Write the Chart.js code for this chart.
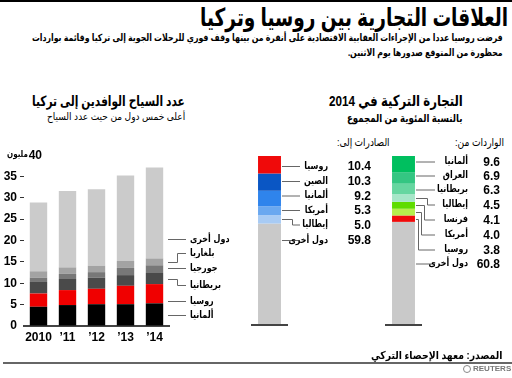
<!DOCTYPE html>
<html>
<head>
<meta charset="utf-8">
<script src="https://cdn.jsdelivr.net/npm/chart.js@4.4.1/dist/chart.umd.min.js"></script>
<style>
body { margin: 0; background: #fff; }
#wrap { position: relative; width: 512px; height: 378px; overflow: hidden; font-family: "Liberation Sans", "DejaVu Sans", sans-serif; color: #000; }
.t { position: absolute; white-space: nowrap; direction: rtl; text-align: right; width: max-content; transform-origin: right center; }
canvas { position: absolute; }
</style>
</head>
<body>
<div id="wrap">
  <div style="position:absolute;left:0;top:0;width:512px;height:2px;background:#000"></div>
  <div class="t" data-w="308" style="right:4px;top:2px;font-size:25px;line-height:30px;font-weight:bold">العلاقات التجارية بين روسيا وتركيا</div>
  <div class="t" data-w="471" style="right:9px;top:30px;font-size:10px;line-height:15px;font-weight:bold">فرضت روسيا عددا من الإجراءات العقابية الاقتصادية على أنقرة من بينها وقف فوري للرحلات الجوية إلى تركيا وقائمة بواردات<br>محظورة من المتوقع صدورها يوم الاثنين.</div>

  <div class="t" data-w="153" style="right:327px;top:92px;font-size:14px;line-height:18px;font-weight:bold">عدد السياح الوافدين إلى تركيا</div>
  <div class="t" data-w="138" style="right:327px;top:110px;font-size:10px;line-height:14px">أعلى خمس دول من حيث عدد السياح</div>

  <div class="t" data-w="134" style="right:49px;top:92px;font-size:15px;line-height:18px;font-weight:bold">التجارة التركية في 2014</div>
  <div class="t" data-w="116" style="right:49px;top:111px;font-size:11px;line-height:14px;font-weight:bold">بالنسبة المئوية من المجموع</div>
  <div class="t" data-w="49" style="right:8px;top:135px;font-size:11px;line-height:14px">الواردات من:</div>
  <div class="t" data-w="53" style="right:122px;top:135px;font-size:11px;line-height:14px">الصادرات إلى:</div>

  <canvas id="tourists" width="250" height="210" style="left:0;top:140px"></canvas>
  <canvas id="exports" width="135" height="200" style="left:245px;top:140px"></canvas>
  <canvas id="imports" width="132" height="200" style="left:380px;top:140px"></canvas>

  <div class="t" data-w="132" style="right:9px;top:348px;font-size:11px;line-height:14px;font-weight:bold">المصدر: معهد الإحصاء التركي</div>
  <div style="position:absolute;left:3px;top:362px;width:509px;height:2px;background:#666"></div>
  <div style="position:absolute;left:463px;top:365px;width:8px;height:8px;border:1.5px solid #888;border-radius:50%;box-sizing:border-box"></div>
  <div style="position:absolute;left:473px;top:364px;font-size:8px;line-height:10px;font-weight:bold;color:#777">REUTERS</div>
</div>

<script>
// السياح (مليون)
const years = ['2010', '\u201911', '\u201912', '\u201913', '\u201914'];
const germany = [4.5, 4.9, 5.1, 5.1, 5.3];
const russia = [3.1, 3.5, 3.6, 4.3, 4.5];
const britain = [2.7, 2.6, 2.6, 2.5, 2.6];
const georgia = [1.0, 1.2, 1.3, 1.7, 1.8];
const bulgaria = [1.5, 1.5, 1.5, 1.6, 1.6];
const others = [16.1, 17.9, 17.9, 20.0, 21.3];
const touristNames = ['ألمانيا', 'روسيا', 'بريطانيا', 'جورجيا', 'بلغاريا', 'دول أخرى'];
const yMax = 40;
const yStep = 5;
const yUnit = 'مليون';

// التجارة 2014 (%)
const exportNames = ['روسيا', 'الصين', 'ألمانيا', 'أمريكا', 'إيطاليا', 'دول أخرى'];
const exportShares = [10.4, 10.3, 9.2, 5.3, 5.0, 59.8];
const importNames = ['ألمانيا', 'العراق', 'بريطانيا', 'إيطاليا', 'فرنسا', 'أمريكا', 'روسيا', 'دول أخرى'];
const importShares = [9.6, 6.9, 6.3, 4.5, 4.1, 4.0, 3.8, 60.8];

// الخط العربي في DejaVu اعرض من الاصل، نضغطه افقيا
document.querySelectorAll('[data-w]').forEach(el => {
  el.style.transform = 'scaleX(' + (el.dataset.w / el.offsetWidth) + ')';
});

const arFont = 'bold 10px "DejaVu Sans", sans-serif';
const numFont = 'bold 12px "Liberation Sans", Arial, sans-serif';

function arText(ctx, text, x, y, align, font) {
  ctx.save();
  ctx.translate(x, y);
  ctx.scale(0.8, 1);
  ctx.font = font || arFont;
  ctx.textAlign = align;
  ctx.textBaseline = 'middle';
  ctx.fillText(text, 0, 0);
  ctx.restore();
}

// خطوط الربط بين الأجزاء والأسماء
const leaders = {
  id: 'leaders',
  afterDatasetsDraw(chart, args, o) {
    const ctx = chart.ctx;
    const area = chart.chartArea;
    ctx.save();
    let k = 0;
    chart.data.datasets.forEach((ds, i) => {
      const meta = chart.getDatasetMeta(i);
      const bar = meta.data[meta.data.length - 1];
      const top = Math.min(bar.y, bar.base), bottom = Math.max(bar.y, bar.base);
      const ly = o.labelY[i];
      const x0 = o.fromArea ? area.right - 1 : bar.x + bar.width / 2 + 1;
      ctx.strokeStyle = '#666';
      ctx.lineWidth = 1;
      ctx.beginPath();
      if (ly >= top + 1 && ly <= bottom - 1) {
        ctx.moveTo(x0, ly + 0.5);
        ctx.lineTo(o.lineEnd, ly + 0.5);
      } else {
        const mid = Math.round((top + bottom) / 2) + 0.5;
        const bx = Math.round(o.lineEnd - o.bendGap - k * o.bendStep) + 0.5;
        k++;
        ctx.moveTo(x0, mid);
        ctx.lineTo(bx, mid);
        ctx.lineTo(bx, ly + 0.5);
        ctx.lineTo(o.lineEnd, ly + 0.5);
      }
      ctx.stroke();
      ctx.fillStyle = '#000';
      arText(ctx, ds.label, o.textX, ly, o.textAlign);
      if (o.valueX) {
        ctx.font = numFont;
        ctx.textAlign = 'right';
        ctx.textBaseline = 'middle';
        ctx.fillText(ds.data[0].toFixed(1), o.valueX, ly + 1);
      }
    });
    if (o.baseline) {
      ctx.strokeStyle = '#444';
      ctx.lineWidth = 2;
      ctx.beginPath();
      ctx.moveTo(area.left, area.bottom + 1);
      ctx.lineTo(area.right, area.bottom + 1);
      ctx.stroke();
    }
    if (o.unit) {
      const y = chart.scales.y.getPixelForValue(yMax);
      ctx.fillStyle = '#000';
      ctx.textBaseline = 'middle';
      ctx.textAlign = 'right';
      ctx.font = numFont;
      ctx.fillText(String(yMax), 42, y + 1);
      arText(ctx, yUnit, 28, y, 'right', 'bold 9px "DejaVu Sans", sans-serif');
    }
    ctx.restore();
  }
};

const touristSeries = [germany, russia, britain, georgia, bulgaria, others];
const touristColors = ['#000000', '#f00000', '#4a4a4a', '#787878', '#a3a3a3', '#cbcbcb'];

new Chart(document.getElementById('tourists'), {
  type: 'bar',
  data: {
    labels: years,
    datasets: touristSeries.map((d, i) => ({
      label: touristNames[i], data: d, backgroundColor: touristColors[i],
      barPercentage: 0.6, categoryPercentage: 1
    }))
  },
  options: {
    responsive: false, animation: false,
    layout: { padding: { top: 15, right: 81, bottom: 4, left: 0 } },
    plugins: {
      legend: { display: false }, tooltip: { enabled: false },
      leaders: { labelY: [175, 161, 145, 128, 113, 99], fromArea: true, lineEnd: 186, bendGap: 9, bendStep: 0, textX: 190, textAlign: 'left', unit: true }
    },
    scales: {
      x: {
        stacked: true,
        afterFit: s => { s.height = 20; },
        grid: { display: false, drawTicks: false },
        border: { display: true, color: '#444', width: 2 },
        ticks: { color: '#000', maxRotation: 0, minRotation: 0, autoSkip: false, font: { family: '"Liberation Sans", Arial', size: 12, weight: 'bold' }, padding: 4 }
      },
      y: {
        stacked: true, min: 0, max: yMax,
        afterFit: s => { s.width = 24; },
        border: { display: false },
        grid: { drawOnChartArea: false, tickLength: 4, color: c => (c.tick && (c.tick.value === yMax || c.tick.value === 0)) ? 'rgba(0,0,0,0)' : '#333' },
        ticks: { stepSize: yStep, color: '#000', padding: 3, font: { family: '"Liberation Sans", Arial', size: 12, weight: 'bold' }, callback: v => v === yMax ? '' : v }
      }
    }
  },
  plugins: [leaders]
});

function shareChart(id, names, shares, colors, pad, leaderOpts) {
  return new Chart(document.getElementById(id), {
    type: 'bar',
    data: {
      labels: [''],
      datasets: names.map((n, i) => ({
        label: n, data: [shares[i]], backgroundColor: colors[i],
        barPercentage: 0.62, categoryPercentage: 1
      }))
    },
    options: {
      responsive: false, animation: false,
      layout: { padding: pad },
      plugins: { legend: { display: false }, tooltip: { enabled: false }, leaders: leaderOpts },
      scales: {
        x: { stacked: true, display: false },
        y: { stacked: true, display: false, min: 0, max: 100, reverse: true }
      }
    },
    plugins: [leaders]
  });
}

shareChart('exports', exportNames, exportShares,
  ['#f00a0a', '#0a56c4', '#2f84ec', '#6aa8f0', '#a8cbf4', '#c9c9c9'],
  { top: 16, right: 92, bottom: 16, left: 6 },
  { labelY: [26, 41, 55.5, 70, 84.5, 100], lineEnd: 55, bendGap: 8, bendStep: 3, textX: 83, textAlign: 'right', valueX: 126, baseline: true });

shareChart('imports', importNames, importShares,
  ['#00bf5f', '#34c682', '#66d6a0', '#a6e6c8', '#5fdc00', '#b6ef4c', '#f00a0a', '#c9c9c9'],
  { top: 16, right: 90, bottom: 16, left: 5 },
  { labelY: [21.5, 35.5, 49.5, 64.5, 79.5, 94.5, 109.5, 123.5], lineEnd: 55, bendGap: 8, bendStep: 3, textX: 88, textAlign: 'right', valueX: 120, baseline: true });
</script>
</body>
</html>
